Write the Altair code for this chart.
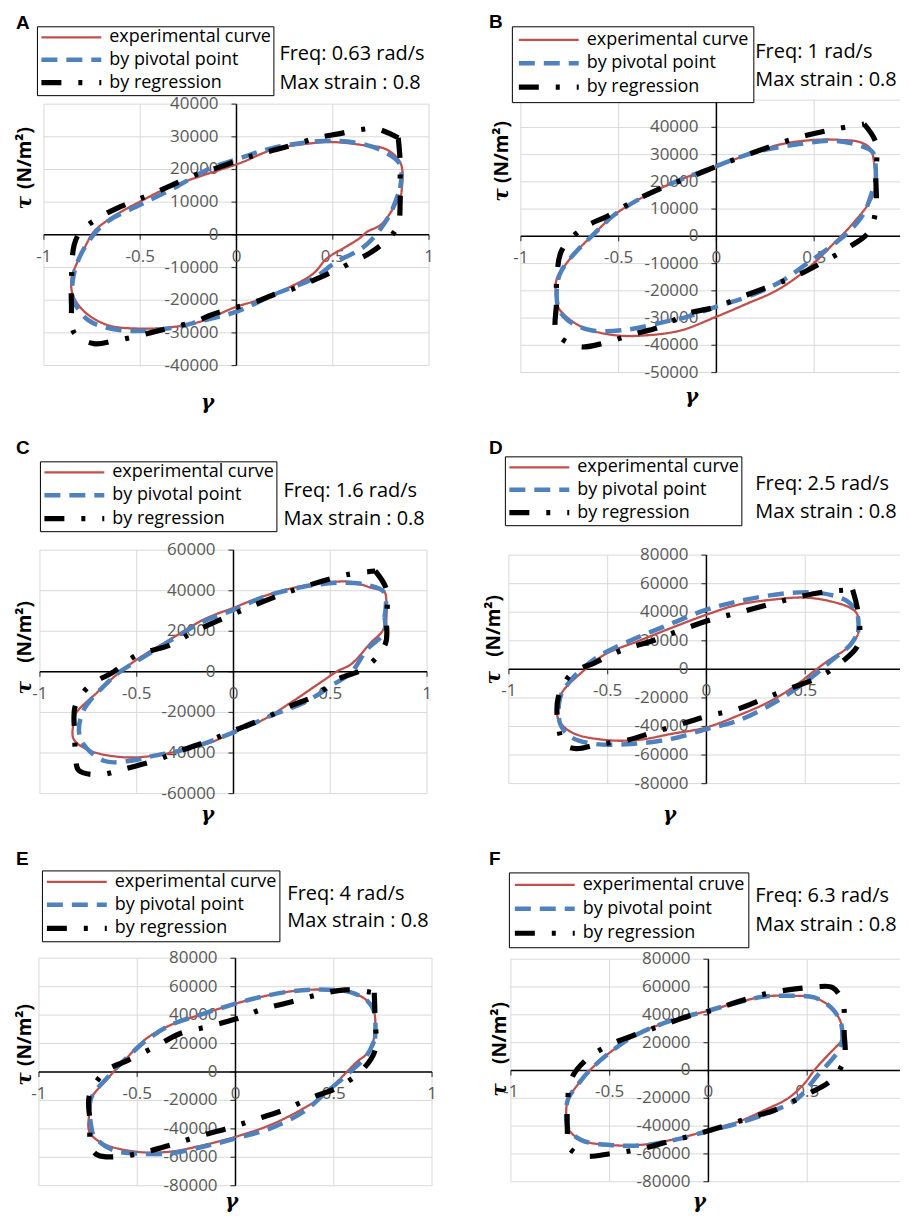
import altair as alt
import pandas as pd

# ------------------------------------------------------------------ data
SERIES = ["experimental curve", "by pivotal point", "by regression"]
SERIES_F = ["experimental cruve", "by pivotal point", "by regression"]
LETTERS = ["A", "B", "C", "D", "E", "F"]
FREQ_LABELS = ["Freq: 0.63 rad/s", "Freq: 1 rad/s", "Freq: 1.6 rad/s",
               "Freq: 2.5 rad/s", "Freq: 4 rad/s", "Freq: 6.3 rad/s"]
STRAIN_LABEL = "Max strain : 0.8"
Y_SYMBOL = "τ"
Y_UNIT = "(N/m²)"
X_TITLE = "γ"

X_TICKS = [-1, -0.5, 0, 0.5, 1]
X_TICKS_CUT = [-1, -0.5, 0, 0.5]
Y_TICKS_A = [-40000, -30000, -20000, -10000, 0, 10000, 20000, 30000, 40000]
Y_GRID_B = [-50000, -40000, -30000, -20000, -10000, 0, 10000, 20000, 30000, 40000, 50000]
Y_LABELS_B = [-50000, -40000, -30000, -20000, -10000, 0, 10000, 20000, 30000, 40000]
Y_TICKS_C = [-60000, -40000, -20000, 0, 20000, 40000, 60000]
Y_TICKS_80 = [-80000, -60000, -40000, -20000, 0, 20000, 40000, 60000, 80000]

# (gamma, tau) points of each loop
A_EXP = [(0.855, 12300), (0.855, 21500), (0.78, 26100), (0.64, 27600), (0.50, 28400), (0.42, 28200),
         (0.19, 26100), (0.02, 22000), (-0.19, 17900), (-0.36, 14300), (-0.50, 10200), (-0.64, 5600),
         (-0.74, 1000), (-0.79, -4100), (-0.84, -10200), (-0.857, -13300), (-0.85, -18400), (-0.79, -23500),
         (-0.67, -27600), (-0.50, -28700), (-0.33, -28200), (-0.19, -26600), (0.00, -22000), (0.11, -20000),
         (0.28, -15900), (0.40, -11800), (0.47, -7200), (0.57, -3600), (0.64, -1000), (0.68, 1000),
         (0.75, 3100), (0.815, 8200), (0.855, 12300)]
A_PIV = [(0.85, 14300), (0.85, 21500), (0.76, 25600), (0.625, 28150), (0.45, 28700), (0.19, 26600),
         (0.02, 23500), (-0.15, 20000), (-0.325, 14300), (-0.50, 9200), (-0.67, 4100), (-0.756, -1000),
         (-0.825, -8200), (-0.85, -14000), (-0.85, -19400), (-0.77, -26100), (-0.60, -29200), (-0.36, -28700),
         (-0.19, -26500), (0.00, -23500), (0.19, -18400), (0.40, -13300), (0.52, -8200), (0.64, -4600),
         (0.71, -1000), (0.80, 6650), (0.85, 14300)]
A_REG = [(0.84, 29700), (0.85, 22500), (0.85, 17400), (0.85, 10200), (0.84, 3100), (0.80, -500),
         (0.70, -5300), (0.59, -8700), (0.50, -11300), (0.41, -13600), (0.30, -16400), (0.19, -18400),
         (0.10, -20500), (-0.05, -23000), (-0.135, -24600), (-0.21, -26400), (-0.36, -28700), (-0.43, -29700),
         (-0.53, -31200), (-0.64, -32500), (-0.74, -33300), (-0.843, -30000), (-0.857, -21500),
         (-0.855, -10700), (-0.843, -3100), (-0.81, 1000), (-0.71, 5400), (-0.60, 8700), (-0.515, 10700),
         (-0.41, 13300), (-0.29, 16400), (-0.19, 18900), (-0.10, 20500), (0.02, 23000), (0.107, 24600),
         (0.207, 26100), (0.33, 28150), (0.418, 29700), (0.53, 30900), (0.642, 32200), (0.73, 32400),
         (0.84, 29700)]

B_EXP = [(0.815, 22150), (0.806, 27100), (0.79, 32000), (0.738, 34500), (0.636, 35400), (0.50, 35400),
         (0.33, 33800), (0.194, 30800), (0.00, 25800), (-0.18, 20900), (-0.35, 15400), (-0.52, 8000),
         (-0.63, 600), (-0.724, -6150), (-0.79, -12300), (-0.818, -16000), (-0.818, -23400), (-0.80, -27100),
         (-0.69, -33200), (-0.52, -36300), (-0.35, -36300), (-0.18, -34500), (0.00, -29500), (0.16, -24600),
         (0.296, -20300), (0.415, -14800), (0.517, -8600), (0.585, -3700), (0.653, 1200), (0.70, 4900),
         (0.77, 11100), (0.806, 16000), (0.815, 22150)]
B_PIV = [(0.815, 20900), (0.80, 30800), (0.738, 33200), (0.60, 35100), (0.415, 33800), (0.194, 30800),
         (0.00, 25800), (-0.18, 20900), (-0.35, 15400), (-0.52, 8000), (-0.63, 600), (-0.724, -6150),
         (-0.79, -12300), (-0.81, -16000), (-0.81, -25800), (-0.76, -30800), (-0.64, -34500), (-0.45, -34200),
         (-0.265, -31400), (-0.146, -29500), (0.00, -25800), (0.16, -22150), (0.33, -16600), (0.466, -9850),
         (0.585, -3700), (0.67, 1200), (0.755, 8600), (0.815, 20900)]
B_REG = [(0.755, 41200), (0.815, 34500), (0.815, 22000), (0.815, 9850), (0.78, 1600), (0.67, -4300),
         (0.534, -9850), (0.40, -14800), (0.267, -18500), (0.13, -22200), (-0.01, -26100), (-0.146, -28300),
         (-0.286, -33200), (-0.43, -36000), (-0.566, -39000), (-0.70, -40500), (-0.815, -35700),
         (-0.818, -24600), (-0.815, -14200), (-0.79, -5000), (-0.68, 3100), (-0.558, 7400), (-0.423, 12900),
         (-0.287, 17500), (-0.13, 21900), (0.015, 26100), (0.19, 30800), (0.338, 34500), (0.466, 37200),
         (0.61, 39400), (0.755, 41200)]

C_EXP = [(0.79, 25900), (0.79, 34100), (0.78, 39300), (0.71, 41500), (0.608, 44300), (0.504, 44300),
         (0.366, 42600), (0.159, 37400), (0.00, 31600), (-0.152, 25900), (-0.325, 16100), (-0.497, 6200),
         (-0.60, -1100), (-0.705, -10200), (-0.817, -20800), (-0.826, -24900), (-0.826, -33100),
         (-0.74, -38900), (-0.566, -42100), (-0.41, -41300), (-0.238, -38000), (-0.117, -34750),
         (0.00, -29800), (0.159, -23300), (0.297, -15100), (0.45, -5200), (0.54, 500), (0.608, 3800),
         (0.71, 14400), (0.77, 20200), (0.79, 25900)]
C_PIV = [(0.78, 27000), (0.78, 39000), (0.677, 43100), (0.54, 43900), (0.366, 42000), (0.159, 37000),
         (0.00, 30500), (-0.152, 25000), (-0.325, 15500), (-0.497, 5400), (-0.58, 500), (-0.65, -5200),
         (-0.78, -20000), (-0.79, -33100), (-0.67, -43800), (-0.53, -43800), (-0.41, -41300),
         (-0.238, -38000), (0.00, -29800), (0.193, -21600), (0.366, -15100), (0.504, -6900), (0.608, -300),
         (0.69, 11100), (0.78, 19300), (0.78, 27000)]
C_REG = [(0.732, 49700), (0.79, 40700), (0.79, 25600), (0.785, 14000), (0.682, 2000), (0.54, -3600),
         (0.42, -11800), (0.297, -16700), (0.15, -23300), (0.00, -29000), (-0.126, -33900), (-0.273, -38900),
         (-0.408, -43800), (-0.566, -47900), (-0.696, -50700), (-0.80, -48500), (-0.815, -42000),
         (-0.82, -31500), (-0.817, -16700), (-0.744, -6900), (-0.62, 0), (-0.497, 8400), (-0.34, 12800),
         (-0.20, 20000), (0.00, 28500), (0.159, 34900), (0.297, 39800), (0.444, 44300), (0.59, 48000),
         (0.732, 49700)]

D_EXP = [(0.768, 24400), (0.764, 38300), (0.73, 42900), (0.63, 47600), (0.495, 50300), (0.327, 48700),
         (0.158, 45200), (0.00, 38300), (-0.178, 29000), (-0.347, 19700), (-0.515, 10400), (-0.633, -2300),
         (-0.726, -15100), (-0.75, -22000), (-0.75, -34800), (-0.683, -44100), (-0.515, -49400),
         (-0.347, -49400), (-0.178, -45200), (0.00, -40600), (0.158, -32500), (0.327, -22000),
         (0.46, -10400), (0.545, -1200), (0.613, 5800), (0.714, 15100), (0.768, 24400)]
D_PIV = [(0.768, 26000), (0.764, 38300), (0.714, 47600), (0.58, 53400), (0.41, 53400), (0.158, 47600),
         (0.00, 41800), (-0.178, 32000), (-0.347, 22500), (-0.515, 11600), (-0.58, 5800), (-0.683, -7000),
         (-0.74, -19700), (-0.74, -38300), (-0.683, -47600), (-0.566, -52200), (-0.38, -52200),
         (-0.178, -48700), (0.00, -41800), (0.158, -36000), (0.36, -22000), (0.53, -5800), (0.63, 5800),
         (0.73, 17400), (0.768, 26000)]
D_REG = [(0.74, 55700), (0.768, 39400), (0.768, 17400), (0.68, 4600), (0.557, -6300), (0.41, -13900),
         (0.285, -20900), (0.158, -27800), (0.01, -32500), (-0.128, -38300), (-0.27, -44100),
         (-0.397, -49400), (-0.552, -52700), (-0.66, -55500), (-0.72, -52500), (-0.75, -39400),
         (-0.75, -19700), (-0.683, -3000), (-0.566, 4600), (-0.42, 13900), (-0.28, 19700), (-0.145, 26700),
         (0.024, 34800), (0.172, 40100), (0.31, 45200), (0.453, 50300), (0.613, 54500), (0.74, 55700)]

E_EXP = [(0.71, 28100), (0.706, 42100), (0.668, 50300), (0.583, 56100), (0.43, 58000), (0.277, 56600),
         (0.09, 51500), (0.00, 48000), (-0.165, 40900), (-0.335, 32700), (-0.454, 23400), (-0.556, 9400),
         (-0.658, -5800), (-0.735, -18700), (-0.743, -28100), (-0.743, -42100), (-0.675, -50300),
         (-0.505, -56100), (-0.335, -56100), (-0.165, -51500), (0.00, -45600), (0.175, -37400),
         (0.345, -25700), (0.447, -16400), (0.55, -2300), (0.617, 7000), (0.685, 15200), (0.71, 28100)]
E_PIV = [(0.71, 23400), (0.706, 42100), (0.668, 50300), (0.583, 56100), (0.43, 58000), (0.277, 56600),
         (0.09, 51500), (0.00, 48000), (-0.165, 40900), (-0.335, 32700), (-0.454, 22200), (-0.54, 11700),
         (-0.64, -2300), (-0.735, -18700), (-0.735, -37400), (-0.717, -45600), (-0.624, -55000),
         (-0.505, -57300), (-0.335, -57300), (-0.165, -52600), (0.00, -46800), (0.175, -39800),
         (0.345, -28100), (0.464, -14000), (0.583, 0), (0.668, 11700), (0.71, 23400)]
E_REG = [(0.706, 55700), (0.71, 37400), (0.71, 15200), (0.643, 1200), (0.515, -11200), (0.396, -17500),
         (0.243, -26900), (0.09, -33900), (-0.032, -39300), (-0.182, -45100), (-0.318, -50800),
         (-0.454, -56100), (-0.604, -59600), (-0.70, -58500), (-0.735, -53000), (-0.74, -35100),
         (-0.743, -16400), (-0.66, 500), (-0.548, 8200), (-0.403, 18200), (-0.284, 26900), (-0.128, 32300),
         (0.005, 37400), (0.134, 44000), (0.277, 49100), (0.418, 54300), (0.558, 57800), (0.706, 55700)]

F_EXP = [(0.678, 21500), (0.67, 34600), (0.62, 45300), (0.535, 52500), (0.417, 53700), (0.283, 53200),
         (0.148, 48900), (0.00, 43000), (-0.189, 35800), (-0.357, 26300), (-0.475, 15500), (-0.593, 1200),
         (-0.677, -13100), (-0.71, -20300), (-0.72, -29800), (-0.71, -41800), (-0.643, -50100),
         (-0.49, -53700), (-0.32, -53200), (-0.155, -48900), (0.00, -43000), (0.148, -37000),
         (0.30, -27400), (0.40, -20300), (0.485, -9500), (0.535, 0), (0.603, 10700), (0.678, 21500)]
F_PIV = [(0.678, 22000), (0.67, 34600), (0.62, 45300), (0.535, 52500), (0.417, 53700), (0.283, 53200),
         (0.148, 48900), (0.00, 43000), (-0.189, 35800), (-0.357, 26300), (-0.475, 15500), (-0.593, 1200),
         (-0.677, -13100), (-0.71, -20300), (-0.72, -29800), (-0.71, -41800), (-0.643, -50100),
         (-0.49, -53700), (-0.32, -53700), (-0.155, -49400), (0.00, -43500), (0.148, -38000),
         (0.316, -29800), (0.45, -20300), (0.552, -3600), (0.653, 13100), (0.678, 22000)]
F_REG = [(0.569, 60400), (0.63, 59500), (0.68, 48900), (0.687, 27400), (0.687, 7900), (0.62, -7200),
         (0.48, -18400), (0.333, -28600), (0.212, -33900), (0.064, -40600), (-0.067, -46100),
         (-0.205, -51300), (-0.348, -56600), (-0.49, -59700), (-0.638, -61300), (-0.714, -54000),
         (-0.714, -44200), (-0.714, -26700), (-0.694, -6000), (-0.613, 8400), (-0.49, 19100), (-0.35, 26700),
         (-0.24, 32200), (-0.08, 39900), (0.013, 43000), (0.148, 49400), (0.283, 54900), (0.43, 58500),
         (0.569, 60400)]

# ------------------------------------------------------------------ style
RED, BLUE, BLACK = "#C0504D", "#4F81BD", "#000000"
GRID = "#D9D9D9"
TICK_GRAY = "#595959"
FONT = "Open Sans"

# per-panel layout (pixels relative to each panel's view)
PANELS = [
    dict(curves=(A_EXP, A_PIV, A_REG), names=SERIES, w=394, h=273,
         xdom=[-1, 1], xr=[5, 391], ydom=[-40000, 40000], yr=[266, 4],
         xgrid=X_TICKS, xlab=X_TICKS, ygrid=Y_TICKS_A, ylab=Y_TICKS_A,
         leg=(-2, -74, 2.5, 1.5), freq=(241, -46, -17), letter=(-23, -71),
         tau=(-14, 103), unit=(-14, 58), gam=(169, 304)),
    dict(curves=(B_EXP, B_PIV, B_REG), names=SERIES, w=392, h=273,
         xdom=[-1, 0.9388], xr=[12, 392], ydom=[-50000, 50000], yr=[273, 0],
         xgrid=X_TICKS_CUT, xlab=X_TICKS_CUT, ygrid=Y_GRID_B, ylab=Y_LABELS_B,
         leg=(3, -74, 3.5, 4), freq=(247, -48, -20), letter=(-20, -72),
         tau=(-7, 95), unit=(-7, 52), gam=(183, 298)),
    dict(curves=(C_EXP, C_PIV, C_REG), names=SERIES, w=394, h=257,
         xdom=[-1, 1], xr=[1, 389], ydom=[-60000, 60000], yr=[257, 13],
         xgrid=X_TICKS, xlab=X_TICKS, ygrid=Y_TICKS_C, ylab=Y_TICKS_C,
         leg=(1, -76, 3, 1.5), freq=(245, -46, -18), letter=(-23, -83),
         tau=(-14, 151), unit=(-14, 95), gam=(169, 278)),
    dict(curves=(D_EXP, D_PIV, D_REG), names=SERIES, w=392, h=257,
         xdom=[-1, 0.9798], xr=[0, 392], ydom=[-80000, 80000], yr=[247, 18],
         xgrid=X_TICKS_CUT, xlab=X_TICKS_CUT, ygrid=Y_TICKS_80, ylab=Y_TICKS_80,
         leg=(-4, -81, 2.5, 1.5), freq=(247, -53, -25), letter=(-20, -83),
         tau=(-15, 141), unit=(-15, 89), gam=(161, 278)),
    dict(curves=(E_EXP, E_PIV, E_REG), names=SERIES, w=394, h=228,
         xdom=[-1, 1], xr=[0, 394], ydom=[-80000, 80000], yr=[228, 0],
         xgrid=X_TICKS, xlab=X_TICKS, ygrid=Y_TICKS_80, ylab=Y_TICKS_80,
         leg=(3, -88, 3, 2), freq=(249, -64, -37), letter=(-23, -93),
         tau=(-14, 121), unit=(-14, 77), gam=(193, 244)),
    dict(curves=(F_EXP, F_PIV, F_REG), names=SERIES_F, w=392, h=228,
         xdom=[-1, 0.9697], xr=[2, 392], ydom=[-80000, 80000], yr=[224, 1],
         xgrid=X_TICKS_CUT, xlab=X_TICKS_CUT, ygrid=Y_TICKS_80, ylab=Y_TICKS_80,
         leg=(0, -86, 4, 3), freq=(247, -62, -33), letter=(-20, -93),
         tau=(-9, 132), unit=(-9, 75), gam=(191, 244)),
]


def text_layer(s, x, y, **kw):
    return alt.Chart(pd.DataFrame({"s": [s]})).mark_text(**kw).encode(
        x=alt.value(x), y=alt.value(y), text="s:N")


def make_panel(k, p):
    xd, xr, yd, yr = p["xdom"], p["xr"], p["ydom"], p["yr"]
    W, H = p["w"], p["h"]
    xs = alt.Scale(domain=xd, rangeMin=xr[0], rangeMax=xr[1], nice=False, zero=False)
    ys = alt.Scale(domain=yd, rangeMin=yr[0], rangeMax=yr[1], nice=False, zero=False)

    def X(f):
        return alt.X(f, type="quantitative", scale=xs, axis=None)

    def Y(f):
        return alt.Y(f, type="quantitative", scale=ys, axis=None)

    # grid
    gv = pd.DataFrame({"v": p["xgrid"], "lo": yd[0], "hi": yd[1]})
    grid_v = alt.Chart(gv).mark_rule(color=GRID, strokeWidth=1).encode(
        x=X("v"), y=Y("lo"), y2="hi")
    gh = pd.DataFrame({"v": p["ygrid"], "lo": xd[0], "hi": xd[1]})
    grid_h = alt.Chart(gh).mark_rule(color=GRID, strokeWidth=1).encode(
        y=Y("v"), x=X("lo"), x2="hi")

    # axes crossing at the origin
    ax_x = alt.Chart(pd.DataFrame({"lo": [xd[0]], "hi": [xd[1]], "z": [0]})).mark_rule(
        color="black", strokeWidth=1.5).encode(x=X("lo"), x2="hi", y=Y("z"))
    ax_y = alt.Chart(pd.DataFrame({"lo": [yd[0]], "hi": [yd[1]], "z": [0]})).mark_rule(
        color="black", strokeWidth=1.5).encode(y=Y("lo"), y2="hi", x=X("z"))
    xt = pd.DataFrame({"v": p["xlab"], "z": 0, "lab": [f"{v:g}" for v in p["xlab"]]})
    yt = pd.DataFrame({"v": p["ylab"], "z": 0, "lab": [f"{v:g}" for v in p["ylab"]]})
    tick_x = alt.Chart(xt).mark_tick(orient="vertical", size=5, thickness=1.2, yOffset=2.5,
                                     color="black").encode(x=X("v"), y=Y("z"))
    tick_y = alt.Chart(yt).mark_tick(orient="horizontal", size=5, thickness=1.2, xOffset=-2.5,
                                     color="black").encode(y=Y("v"), x=X("z"))
    lab_x = alt.Chart(xt).mark_text(align="center", baseline="top", dy=14, font=FONT,
                                    fontSize=17, color=TICK_GRAY).encode(
        x=X("v"), y=Y("z"), text="lab:N")
    lab_y = alt.Chart(yt).mark_text(align="right", baseline="middle", dx=-18, font=FONT,
                                    fontSize=17, color=TICK_GRAY).encode(
        y=Y("v"), x=X("z"), text="lab:N")

    # curves
    names = p["names"]
    lx, ly, rowpad, pad = p["leg"]
    legend = alt.Legend(title=None, orient="none", legendX=lx, legendY=ly,
                        rowPadding=rowpad, padding=pad, labelLimit=400)
    cs = alt.Scale(domain=names, range=[RED, BLUE, BLACK])
    ds = alt.Scale(domain=names, range=[[1, 0], [16, 9], [20, 17, 4, 17]])
    ws = alt.Scale(type="ordinal", domain=names, range=[2.3, 4.5, 5.2])

    curves = []
    for j, pts in enumerate(p["curves"]):
        df = pd.DataFrame({"g": [a for a, b in pts], "t": [b for a, b in pts],
                           "i": list(range(len(pts))), "s": names[j]})
        curves.append(alt.Chart(df).mark_line(interpolate="catmull-rom").encode(
            x=X("g"), y=Y("t"),
            order="i:Q",
            color=alt.Color("s:N", scale=cs, legend=legend),
            strokeDash=alt.StrokeDash("s:N", scale=ds, legend=legend),
            strokeWidth=alt.StrokeWidth("s:N", scale=ws, legend=legend)))

    fx, fy1, fy2 = p["freq"]
    texts = [
        text_layer(FREQ_LABELS[k], fx, fy1, align="left", baseline="middle",
                   font=FONT, fontSize=20, color="black"),
        text_layer(STRAIN_LABEL, fx, fy2, align="left", baseline="middle",
                   font=FONT, fontSize=20, color="black"),
        text_layer(LETTERS[k], p["letter"][0], p["letter"][1], align="left",
                   baseline="alphabetic", font="Liberation Sans", fontSize=19,
                   fontWeight="bold", color="black"),
        text_layer(Y_UNIT, p["unit"][0], p["unit"][1], angle=270, align="center",
                   baseline="middle", font=FONT, fontSize=19, fontWeight="bold", color="black"),
        text_layer(Y_SYMBOL, p["tau"][0], p["tau"][1], angle=270, align="center",
                   baseline="middle", font="DejaVu Serif", fontSize=20, fontWeight="bold",
                   fontStyle="italic", color="black"),
        text_layer(X_TITLE, p["gam"][0], p["gam"][1], align="center", baseline="middle",
                   font="DejaVu Serif", fontSize=20, fontWeight="bold", fontStyle="italic",
                   color="black"),
    ]
    return alt.layer(grid_v, grid_h, ax_x, ax_y, tick_x, tick_y, lab_x, lab_y,
                     *curves, *texts).properties(width=W, height=H)


panels = [make_panel(k, p) for k, p in enumerate(PANELS)]

chart = alt.concat(*panels, columns=2, spacing={"row": 165, "column": 77}, bounds="flush").resolve_scale(
    x="independent", y="independent", color="independent",
    strokeDash="independent", strokeWidth="independent"
).resolve_legend(
    color="independent", strokeDash="independent", strokeWidth="independent"
).properties(
    padding={"left": 7, "top": 4, "right": 0, "bottom": 0}
).configure_view(
    stroke=None
).configure_legend(
    strokeColor="black", fillColor="white", labelFont=FONT, labelFontSize=18,
    labelColor="black", symbolType="M-1,0H6.5", symbolSize=256, labelOffset=49
)

chart.save("out.html", embed_options={"renderer": "svg", "actions": False})
